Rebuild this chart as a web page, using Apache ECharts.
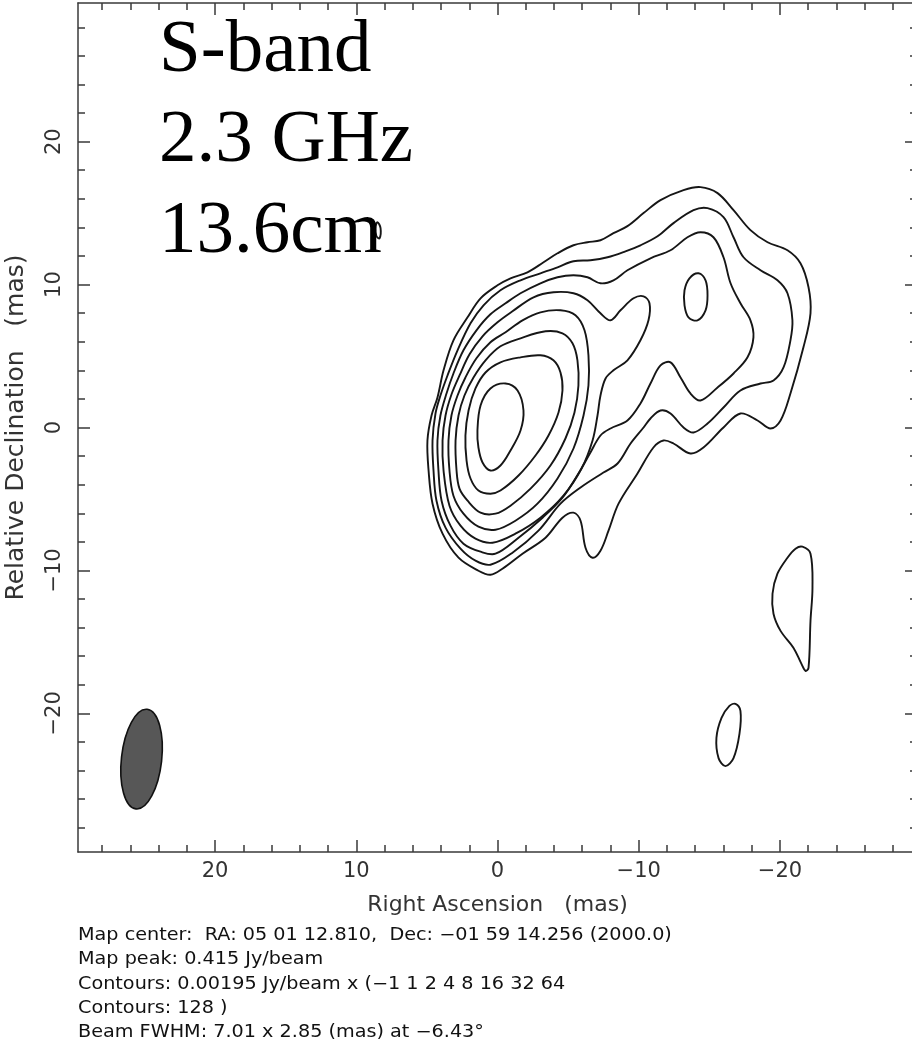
<!DOCTYPE html>
<html>
<head>
<meta charset="utf-8">
<script src="https://cdn.jsdelivr.net/npm/echarts@6.0.0/dist/echarts.min.js"></script>
<style>
html,body{margin:0;padding:0;background:#ffffff;}
#chart{width:912px;height:1044px;}
</style>
</head>
<body>
<div id="chart"></div>
<script>
// ---- axes (mas) ----
const axisRange = [-29.7, 29.7];
const majorTicks = [-20, -10, 0, 10, 20];
const minorTicks = [-28,-26,-24,-22,-18,-16,-14,-12,-8,-6,-4,-2,2,4,6,8,12,14,16,18,22,24,26,28];

// ---- contours, [RA offset, Dec offset] in mas; levels 0.00195 Jy/beam x (1 2 4 8 16 32 64 128) ----
const contourLevel1 = [[4.88,-3.01],[4.96,-0.91],[4.67,0.84],[4.25,2.10],[3.82,4.00],[3.12,6.10],[2.12,7.71],[1.20,9.04],[0,9.95],[-0.92,10.44],[-2.12,10.86],[-3.26,11.56],[-4.25,12.19],[-5.38,12.75],[-6.37,12.96],[-7.29,13.10],[-8.21,13.60],[-9.20,14.09],[-10.34,15.00],[-11.54,15.91],[-13.17,16.61],[-14.37,16.82],[-15.58,16.40],[-16.71,15.21],[-17.91,13.81],[-19.12,12.96],[-20.53,12.40],[-21.45,11.49],[-22.02,9.81],[-22.16,7.99],[-21.66,5.61],[-20.74,2.38],[-20.04,0.49],[-19.33,-0.07],[-18.41,0.49],[-17.20,0.98],[-16.00,0],[-14.58,-1.40],[-13.66,-1.82],[-12.46,-1.12],[-11.75,-0.91],[-11.04,-1.40],[-9.91,-3.22],[-8.57,-5.33],[-7.86,-7.22],[-7.29,-8.62],[-6.73,-9.11],[-6.23,-8.41],[-5.88,-6.52],[-5.38,-5.96],[-4.60,-6.31],[-3.40,-7.71],[-1.77,-8.83],[-0.35,-9.88],[0.50,-10.30],[1.35,-10.02],[2.76,-9.11],[3.89,-7.43],[4.60,-5.33]];
const contourLevel2 = [[4.60,-0.91],[4.39,0.98],[4.04,2.24],[3.54,3.64],[2.83,5.40],[1.91,7.29],[0.99,8.55],[-0.21,9.60],[-1.63,10.30],[-3.04,10.79],[-4.25,11.21],[-5.38,11.63],[-6.58,11.70],[-7.79,11.91],[-9.06,12.33],[-10.12,12.75],[-11.33,13.38],[-12.46,14.30],[-13.88,15.21],[-14.87,15.35],[-16.00,14.72],[-16.71,13.31],[-17.42,11.91],[-18.62,11.00],[-19.82,10.30],[-20.53,9.39],[-20.88,7.50],[-20.74,6.10],[-20.25,4.20],[-19.54,3.29],[-18.62,3.08],[-17.20,2.59],[-16.00,1.40],[-14.87,0.28],[-13.88,-0.35],[-13.17,0],[-12.25,0.98],[-11.54,1.19],[-10.83,0.63],[-10.34,0],[-9.42,-1.12],[-8.50,-2.52],[-7.50,-3.15],[-5.88,-4.20],[-4.46,-5.33],[-2.90,-7.22],[-1.06,-8.76],[0.50,-9.60],[1.56,-9.32],[2.62,-8.48],[3.68,-7.01],[4.32,-5.12],[4.53,-3.01]];
const contourLevel3 = [[4.18,-3.01],[4.25,-0.91],[4.04,0.84],[3.61,2.38],[3.12,3.78],[2.41,5.40],[1.49,6.80],[0.50,7.92],[-0.57,8.69],[-1.63,9.39],[-3.04,10.09],[-4.25,10.51],[-5.38,10.65],[-6.37,10.51],[-7.29,10.09],[-8.21,10.30],[-9.20,11.00],[-10.83,11.84],[-12.25,12.40],[-13.45,13.31],[-14.37,13.66],[-15.29,13.31],[-16.00,11.91],[-16.50,10.09],[-17.20,8.69],[-17.91,7.50],[-18.12,6.31],[-17.70,4.91],[-16.71,3.78],[-15.58,2.80],[-14.37,1.89],[-13.66,2.38],[-12.96,3.50],[-12.25,4.56],[-11.54,4.35],[-10.83,3.08],[-10.12,1.68],[-9.20,0.49],[-8.00,-0.07],[-7.29,-0.56],[-6.58,-1.75],[-5.73,-3.22],[-4.60,-4.91],[-3.19,-6.31],[-1.49,-7.71],[0.14,-8.83],[1.20,-8.69],[2.41,-8.13],[3.33,-6.87],[3.96,-5.12]];
const contourLevel4 = [[3.82,-3.01],[3.89,-0.91],[3.68,0.84],[3.26,2.31],[2.69,3.64],[1.98,5.12],[1.06,6.38],[0,7.36],[-1.06,8.13],[-2.55,9.11],[-3.96,9.46],[-5.38,9.39],[-6.37,8.90],[-7.29,7.99],[-8.00,7.50],[-8.71,8.20],[-9.63,9.04],[-10.34,9.18],[-10.76,8.69],[-10.69,7.50],[-10.12,6.10],[-9.20,4.70],[-8.21,4.00],[-7.65,3.43],[-7.29,2.24],[-7.08,0.84],[-6.73,-0.91],[-5.95,-2.87],[-4.67,-4.77],[-3.04,-6.31],[-1.27,-7.43],[0.35,-8.06],[1.56,-7.78],[2.62,-6.87],[3.40,-5.47]];
const contourLevel4Knot = [[-14.23,10.79],[-14.73,10.30],[-14.87,9.25],[-14.73,8.20],[-14.16,7.50],[-13.52,7.71],[-13.24,8.55],[-13.24,9.60],[-13.59,10.44]];
const contourLevel5 = [[3.40,-3.01],[3.47,-0.91],[3.26,0.84],[2.83,2.24],[2.27,3.50],[1.49,4.84],[0.50,5.96],[-0.57,6.66],[-1.77,7.50],[-3.04,8.06],[-4.46,8.20],[-5.52,7.85],[-6.16,6.80],[-6.44,5.05],[-6.44,2.94],[-6.09,0.84],[-5.38,-1.47],[-4.25,-3.57],[-2.83,-5.33],[-1.27,-6.52],[0.14,-7.15],[1.35,-6.94],[2.41,-6.03],[3.12,-4.77]];
const contourLevel6 = [[2.90,-3.01],[2.97,-0.91],[2.76,0.84],[2.34,2.24],[1.70,3.50],[0.85,4.70],[-0.21,5.68],[-1.63,6.24],[-3.40,6.73],[-4.60,6.59],[-5.31,5.89],[-5.66,4.70],[-5.73,2.94],[-5.45,1.05],[-4.81,-0.77],[-3.75,-2.66],[-2.34,-4.28],[-0.92,-5.47],[0.14,-6.03],[1.20,-5.96],[2.12,-5.12],[2.69,-4.28]];
const contourLevel7 = [[2.19,-2.31],[2.27,-0.56],[2.05,1.19],[1.56,2.73],[0.85,3.85],[-0.21,4.56],[-1.63,4.91],[-3.04,5.05],[-3.96,4.70],[-4.46,3.85],[-4.60,2.59],[-4.32,1.05],[-3.61,-0.56],[-2.69,-1.96],[-1.49,-3.36],[-0.21,-4.41],[0.50,-4.63],[1.35,-4.41],[1.91,-3.57]];
const contourLevel8 = [[1.42,-0.21],[1.20,1.54],[0.50,2.73],[-0.57,3.08],[-1.42,2.59],[-1.84,1.19],[-1.63,-0.21],[-0.92,-1.61],[-0.21,-2.66],[0.50,-3.01],[1.06,-2.45],[1.35,-1.40]];
const islandSouthWest = [[-21.59,-8.34],[-22.16,-8.83],[-22.30,-11.21],[-22.16,-13.52],[-22.02,-16.82],[-21.81,-17.03],[-21.52,-16.54],[-20.96,-15.42],[-20.04,-14.23],[-19.54,-13.03],[-19.47,-11.63],[-19.82,-10.23],[-20.53,-9.11],[-21.10,-8.48]];
const islandSouth = [[-16.85,-19.34],[-17.20,-19.83],[-17.13,-21.44],[-16.71,-23.13],[-16.14,-23.69],[-15.65,-23.13],[-15.50,-21.72],[-15.86,-20.32],[-16.42,-19.48]];
const islandNorth = [[8.50,14.37],[8.28,13.95],[8.35,13.24],[8.57,13.38],[8.64,13.95]];

// beam: [RA centre, Dec centre, minor FWHM, major FWHM, position angle deg]
const beam = [[25.2, -23.2, 2.85, 7.01, -6.43]];

const bandText = ['S-band', '2.3 GHz', '13.6cm'];
const xAxisTitle = 'Right Ascension   (mas)';
const yAxisTitle = 'Relative Declination   (mas)';
const infoLines = [
  'Map center:  RA: 05 01 12.810,  Dec: \u221201 59 14.256 (2000.0)',
  'Map peak: 0.415 Jy/beam',
  'Contours: 0.00195 Jy/beam x (\u22121 1 2 4 8 16 32 64',
  'Contours: 128 )',
  'Beam FWHM: 7.01 x 2.85 (mas) at \u22126.43\u00b0'
];

const contours = [contourLevel1, contourLevel2, contourLevel3, contourLevel4, contourLevel4Knot,
  contourLevel5, contourLevel6, contourLevel7, contourLevel8, islandSouthWest, islandSouth, islandNorth];

const AXIS_COLOR = '#3a3a3a';
const LABEL_FONT = '"DejaVu Sans", sans-serif';
const fmt = v => (v < 0 ? '\u2212' : '') + Math.abs(v);

function mkX(pos, ticks, len, showLine, showLabel, withName) {
  const ax = {
    type: 'value', gridIndex: 0, position: pos, inverse: true,
    min: axisRange[0], max: axisRange[1],
    splitLine: { show: false },
    axisLine: { show: showLine, onZero: false, lineStyle: { color: AXIS_COLOR, width: 1.5 } },
    axisTick: { show: true, inside: true, length: len, customValues: ticks, lineStyle: { color: AXIS_COLOR, width: 1.5 } },
    axisLabel: showLabel ? { show: true, customValues: ticks, formatter: fmt, margin: 9, fontSize: 21,
      color: '#333', fontFamily: LABEL_FONT } : { show: false }
  };
  if (withName) {
    ax.name = xAxisTitle; ax.nameLocation = 'middle'; ax.nameGap = 42;
    ax.nameTextStyle = { fontSize: 22, color: '#333', fontFamily: LABEL_FONT };
  }
  return ax;
}
function mkY(pos, ticks, len, showLine, showLabel, withName) {
  const ax = {
    type: 'value', gridIndex: 0, position: pos,
    min: axisRange[0], max: axisRange[1],
    splitLine: { show: false },
    axisLine: { show: showLine, onZero: false, lineStyle: { color: AXIS_COLOR, width: 1.5 } },
    axisTick: { show: true, inside: true, length: len, customValues: ticks, lineStyle: { color: AXIS_COLOR, width: 1.5 } },
    axisLabel: showLabel ? { show: true, customValues: ticks, formatter: fmt, margin: 13, rotate: 90, fontSize: 21,
      color: '#333', fontFamily: LABEL_FONT } : { show: false }
  };
  if (withName) {
    ax.name = yAxisTitle; ax.nameLocation = 'middle'; ax.nameGap = 49; ax.nameRotate = 90;
    ax.nameTextStyle = { fontSize: 25, color: '#333', fontFamily: LABEL_FONT };
  }
  return ax;
}

function contourSeries(points, idx) {
  return {
    type: 'custom', name: 'contour' + idx, coordinateSystem: 'cartesian2d',
    xAxisIndex: 0, yAxisIndex: 0, silent: true, clip: true, z: 5,
    data: points,
    renderItem: function (params, api) {
      if (params.dataIndex !== 0) return null;
      const pts = points.map(p => api.coord(p));
      return {
        type: 'polygon',
        shape: { points: pts, smooth: 0.35 },
        style: { fill: 'none', stroke: '#161616', lineWidth: 1.9 }
      };
    }
  };
}

const series = contours.map((c, i) => contourSeries(c, i));
series.push({
  type: 'custom', name: 'beam', coordinateSystem: 'cartesian2d',
  xAxisIndex: 0, yAxisIndex: 0, silent: true, z: 6,
  data: beam,
  renderItem: function (params, api) {
    const c = api.coord([api.value(0), api.value(1)]);
    const sz = api.size([api.value(2), api.value(3)]);
    return {
      type: 'ellipse', x: c[0], y: c[1], rotation: api.value(4) * Math.PI / 180,
      shape: { cx: 0, cy: 0, rx: sz[0] / 2, ry: sz[1] / 2 },
      style: { fill: '#575757', stroke: '#111', lineWidth: 1.6 }
    };
  }
});

const graphics = [];
const bandY = [51, 141, 232];
bandText.forEach((t, i) => {
  graphics.push({
    type: 'text', x: 159, y: bandY[i], z: 10, silent: true,
    style: { text: t, font: '75px "Liberation Serif", "Times New Roman", serif', fill: '#000',
      verticalAlign: 'middle', align: 'left' }
  });
});
const infoY = [936, 960, 985, 1009, 1033];
infoLines.forEach((t, i) => {
  graphics.push({
    type: 'text', x: 78, y: infoY[i], scaleX: 1.13, z: 10, silent: true,
    style: { text: t, font: '17px "DejaVu Sans", sans-serif', fill: '#111',
      verticalAlign: 'middle', align: 'left' }
  });
});

const chart = echarts.init(document.getElementById('chart'), null, { renderer: 'canvas' });
chart.setOption({
  backgroundColor: '#ffffff',
  animation: false,
  grid: { left: 78, top: 3, width: 839, height: 849, containLabel: false, outerBoundsMode: 'none' },
  xAxis: [
    mkX('bottom', majorTicks, 12, true, true, true),
    mkX('bottom', minorTicks, 7, false, false, false),
    mkX('top', majorTicks, 12, true, false, false),
    mkX('top', minorTicks, 7, false, false, false)
  ],
  yAxis: [
    mkY('left', majorTicks, 12, true, true, true),
    mkY('left', minorTicks, 7, false, false, false),
    mkY('right', majorTicks, 12, true, false, false),
    mkY('right', minorTicks, 7, false, false, false)
  ],
  series: series,
  graphic: graphics
});
</script>
</body>
</html>
